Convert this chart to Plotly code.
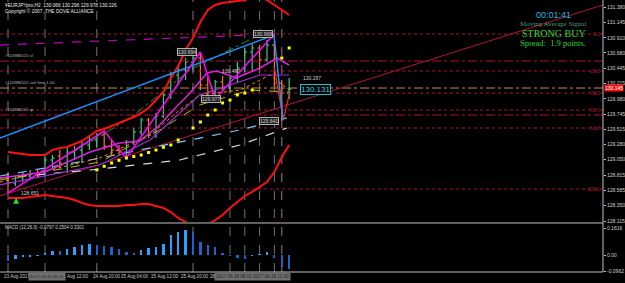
import plotly.graph_objects as go

# ---------------- data ----------------
bar_idx = list(range(39))
opens = [128.771,128.695,128.771,128.802,128.832,128.863,129.046,129.107,129.000,129.168,129.198,129.275,129.351,129.427,129.259,129.198,129.168,129.320,129.473,129.656,129.427,129.717,130.038,130.343,130.419,130.541,130.602,130.190,130.083,130.236,130.160,130.297,130.450,130.694,130.755,130.572,130.800,130.221,130.066]
highs = [128.863,128.802,128.863,128.893,128.893,129.092,129.122,129.198,129.229,129.259,129.351,129.412,129.458,129.488,129.351,129.275,129.351,129.534,129.687,129.687,129.763,130.083,130.389,130.495,130.602,130.648,130.694,130.312,130.266,130.327,130.343,130.541,130.755,130.816,130.800,130.877,130.968,130.266,130.296]
lows = [128.542,128.649,128.710,128.741,128.771,128.817,128.924,128.939,128.848,129.046,129.000,129.198,129.229,129.198,129.122,129.107,129.076,129.275,129.427,129.382,129.382,129.687,129.977,130.190,130.266,130.389,130.114,130.007,129.977,130.114,130.068,130.221,130.389,130.389,130.419,130.541,130.160,129.641,129.978]
closes = [128.695,128.771,128.802,128.832,128.802,129.046,129.076,129.000,129.168,129.198,129.275,129.351,129.427,129.259,129.198,129.168,129.320,129.473,129.656,129.427,129.717,130.038,130.343,130.419,130.541,130.602,130.190,130.083,130.236,130.160,130.297,130.450,130.694,130.755,130.572,130.800,130.221,130.068,130.126]

macd_hist = [-0.034,-0.026,-0.014,-0.010,-0.004,0.014,0.026,0.024,0.034,0.046,0.060,0.064,0.060,0.054,0.046,0.036,0.020,0.014,0.030,0.040,0.050,0.064,0.120,0.140,0.150,0.140,0.080,0.060,0.050,0.014,-0.004,-0.020,-0.026,-0.006,0.004,0.020,-0.016,-0.070,-0.086]

bb_upper = [129.168,129.153,129.137,129.122,129.122,129.122,129.198,129.229,129.244,129.290,129.336,129.412,129.488,129.519,129.565,129.610,129.656,129.702,129.763,129.839,129.961,130.083,130.297,130.480,130.724,130.907,131.151,131.334,131.411,131.441,131.456,131.472,131.487,131.518,131.533,131.487,131.411,131.334,131.258]
bb_lower = [128.466,128.466,128.466,128.481,128.497,128.512,128.497,128.481,128.466,128.436,128.390,128.359,128.344,128.344,128.344,128.344,128.359,128.359,128.375,128.375,128.344,128.314,128.252,128.161,128.100,128.039,128.039,128.069,128.130,128.207,128.314,128.405,128.497,128.558,128.634,128.710,128.863,129.092,129.275]

ma_fast_x = [-1.08,5.0,11.08,15.1,17.8,20.5,22.6,24.6,26.9,28.2,30.9,34.05,36.35,37.97]
ma_fast_y = [128.771,128.863,129.168,129.305,129.336,129.580,129.839,130.068,130.373,130.404,130.297,130.450,130.602,130.495]
ma_purple_x = [-1.08,12.4,19.2,25.9,30.0,34.05,38.0]
ma_purple_y = [128.665,128.970,129.351,130.038,130.190,130.343,130.343]
ma_green_x = [7.0,16.5,24.6,33.1]
ma_green_y = [129.046,129.687,130.419,130.907]
ma_orange_x = [-1.08,12.4,19.2,23.2,25.9,31.4,35.4,38.0]
ma_orange_y = [128.710,129.076,129.427,129.809,130.038,130.114,130.343,130.114]
ma_olive_x = [-1.08,12.4,20.5,25.9,32.7,38.0]
ma_olive_y = [128.741,129.015,129.504,129.885,130.114,130.083]
ma_lblue_x = [-1.08,11.08,31.35,37.7]
ma_lblue_y = [128.802,129.046,129.504,129.687]
ma_white_x = [-1.08,11.08,23.2,31.35,37.7]
ma_white_y = [128.771,128.893,129.046,129.275,129.534]
ma_red_x = [36.0,37.2,38.0]
ma_red_y = [130.450,129.656,130.038]

sar_x = [12,13,14,15,16,17,18,19,20,21,22,23,25,26,27,28,29,30,31,32,33,37,38]
sar_y = [128.893,128.950,129.000,129.040,129.076,129.100,129.122,129.160,129.198,129.240,129.275,129.351,129.534,129.626,129.732,129.809,129.916,129.961,130.038,130.068,130.114,130.602,130.755]

zigzag_x = [0,13,16,26,28,36]
zigzag_y = [128.542,129.488,129.076,130.694,129.977,130.968]

buy_arrow_x = [1.1]
buy_arrow_y = [128.470]

trend_red_x = [-1.08,80.4]
trend_red_y = [128.497,131.411]
trend_blue_x = [-1.08,35.95,37.16]
trend_blue_y = [129.382,130.953,129.656]
channel_x = [-1.08,33.0]
channel_y = [130.800,130.953]

fib_levels = [130.968,130.404,130.068,129.809,129.534,128.603]
fib_names = ["0.0","23.6","38.2","50.0","61.8","100.0"]
order_levels = [130.556,130.144,129.732]
order_names = ["#110986515 sl","#110986515 sell limit 1.00","#110986515 tp"]

price_ticks = [131.380,131.145,130.910,130.680,130.445,130.215,129.980,129.745,129.515,129.280,129.050,128.815,128.585,128.350,128.115]
macd_ticks = [0.1616,0.0,-0.0962]
macd_tick_text = ["0.1616","0.00","-0.0962"]
time_label_x = [-0.81,7.7,11.2,15.0,19.05,23.1,27.0]
time_labels = ["23 Aug 2017","Aug 12:00","24 Aug 20:00","25 Aug 04:00","25 Aug 12:00","25 Aug 20:00","28"]
separators = [0,5,12,25,30,32,34,36,37]
sep_colors = ["#8a6a80","#707070","#8a6a80","#8a6a80","#707070","#707070","#707070","#707070","#a07090"]

# ---------------- figure ----------------
W, H = 625, 283
ML, MR, MT, MB = 0, 22, 0, 11
PW, PH = W - ML - MR, H - MT - MB
def py(p):  # pixel -> paper y
    return 1 - p / PH
def px(p):
    return p / PW

fig = go.Figure()
grey = "#c0c0c0"

for lv in fib_levels:
    fig.add_trace(go.Scatter(x=[-1.08, 80.4], y=[lv, lv], mode="lines",
                             line=dict(color="#b0142c", width=1, dash="dot"),
                             hoverinfo="skip", showlegend=False))
for lv, c in zip(order_levels, ["#b0142c", "#c88a3c", "#b0142c"]):
    fig.add_trace(go.Scatter(x=[-1.08, 80.4], y=[lv, lv], mode="lines",
                             line=dict(color=c, width=1, dash="dashdot"),
                             hoverinfo="skip", showlegend=False))

fig.add_trace(go.Scatter(x=trend_red_x, y=trend_red_y, mode="lines",
                         line=dict(color="#b01830", width=1), showlegend=False))
fig.add_trace(go.Scatter(x=channel_x, y=channel_y, mode="lines",
                         line=dict(color="#c000c0", width=1.2, dash="dash"), showlegend=False))

ma_specs = [
    (ma_white_x, ma_white_y, "#d8d8d8", "dash", 1.2),
    (ma_lblue_x, ma_lblue_y, "#7ec8f0", "dash", 1.2),
    (ma_olive_x, ma_olive_y, "#c8b400", "dash", 1),
    (ma_orange_x, ma_orange_y, "#ff8c00", "dot", 1),
    (ma_green_x, ma_green_y, "#2e8b2e", "dashdot", 1),
    (ma_purple_x, ma_purple_y, "#9a30d0", "solid", 1.2),
    (ma_fast_x, ma_fast_y, "#e020e0", "solid", 1.5),
    (ma_red_x, ma_red_y, "#ff2020", "solid", 1.2),
]
for xs, ys, c, d, w in ma_specs:
    fig.add_trace(go.Scatter(x=xs, y=ys, mode="lines",
                             line=dict(color=c, width=w, dash=d), showlegend=False))

for band in (bb_upper, bb_lower):
    fig.add_trace(go.Scatter(x=bar_idx, y=band, mode="lines",
                             line=dict(color="#ff1010", width=2), showlegend=False))

fig.add_trace(go.Scatter(x=trend_blue_x, y=trend_blue_y, mode="lines",
                         line=dict(color="#1e90ff", width=1.5), showlegend=False))
fig.add_trace(go.Scatter(x=zigzag_x, y=zigzag_y, mode="lines",
                         line=dict(color="#ff00ff", width=1.5), showlegend=False))

fig.add_trace(go.Ohlc(x=bar_idx, open=opens, high=highs, low=lows, close=closes,
                      increasing=dict(line=dict(color="#3cc88c", width=1.2)),
                      decreasing=dict(line=dict(color="#ff7020", width=1.2)),
                      tickwidth=0.3, showlegend=False, xaxis="x", yaxis="y"))

fig.add_trace(go.Scatter(x=sar_x, y=sar_y, mode="markers",
                         marker=dict(color="#ffff00", size=3, symbol="square"), showlegend=False))
fig.add_trace(go.Scatter(x=buy_arrow_x, y=buy_arrow_y, mode="markers",
                         marker=dict(color="#20e020", size=6, symbol="arrow-up"), showlegend=False))

macd_colors = ["#28a0ff" if (i > 0 and v > macd_hist[i-1]) else "#1a66c8" for i, v in enumerate(macd_hist)]
fig.add_trace(go.Bar(x=bar_idx, y=macd_hist, width=0.3, marker=dict(color=macd_colors, line=dict(width=0)),
                     xaxis="x", yaxis="y2", showlegend=False))

annotations = []
hdr = dict(family="Liberation Sans", size=4.8, color="#e8e8e8")
annotations.append(dict(x=px(3), y=py(5), xref="paper", yref="paper", xanchor="left", yanchor="middle",
                        text="\u00a5EURJPYpro,H2  130.066 130.296 129.978 130.126", showarrow=False, font=hdr))
annotations.append(dict(x=px(3), y=py(11.5), xref="paper", yref="paper", xanchor="left", yanchor="middle",
                        text="Copyright \u00a9 2007, THE DOVE ALLIANCE", showarrow=False, font=hdr))
annotations.append(dict(x=px(3), y=py(227.5), xref="paper", yref="paper", xanchor="left", yanchor="middle",
                        text="MACD (12,26,9) -0.0797 0.2504 0.3301", showarrow=False,
                        font=dict(family="Liberation Sans", size=4.5, color="#d0d0d0")))
sig = [
    dict(x=px(553), y=py(15), text="00:01:41", font=dict(family="Liberation Sans", size=9, color="#18b8e0")),
    dict(x=px(553), y=py(23.5), text="Moving Average Signal", font=dict(family="Liberation Serif", size=7, color="#4f9a78")),
    dict(x=px(554), y=py(33), text="STRONG BUY", font=dict(family="Liberation Serif", size=10, color="#2ed82e")),
    dict(x=px(553), y=py(43), text="Spread:  1.9 points.", font=dict(family="Liberation Serif", size=8.5, color="#2ed82e")),
]
for a in sig:
    a.update(xref="paper", yref="paper", xanchor="center", yanchor="middle", showarrow=False)
annotations += sig

for lv, nm in zip(order_levels, order_names):
    annotations.append(dict(x=-0.7, y=lv, xref="x", yref="y", xanchor="left", yanchor="bottom",
                            text=nm, showarrow=False, font=dict(family="Liberation Sans", size=4.3, color="#b8b8b8"),
                            yshift=1))
for lv, nm in zip(fib_levels, fib_names):
    annotations.append(dict(x=px(602), y=lv, xref="paper", yref="y", xanchor="right", yanchor="middle",
                            text=nm, showarrow=False, font=dict(family="Liberation Sans", size=5, color="#a01c30")))
zz_pos = [(3.0, 128.542, "128.651", None), (24.2, 130.694, "130.694", "box"), (27.5, 129.977, "129.977", "box"),
          (30.2, 130.404, "130.49?", None), (34.4, 130.968, "130.968", "box"), (35.3, 129.641, "129.641", "box")]
for xv, yv, t, st in zz_pos:
    d = dict(x=xv, y=yv, xref="x", yref="y", xanchor="center", yanchor="middle", text=t, showarrow=False,
             font=dict(family="Liberation Sans", size=5, color="#d0d0d0"))
    if st == "box":
        d.update(bgcolor="#202020", bordercolor="#b0b0b0", borderwidth=1, borderpad=0)
    annotations.append(d)
annotations.append(dict(x=39.6, y=130.296, xref="x", yref="y", xanchor="left", yanchor="middle", text="130.297",
                        showarrow=False, font=dict(family="Liberation Sans", size=5, color="#c8c8c8")))
annotations.append(dict(x=39.5, y=130.126, xref="x", yref="y", xanchor="left", yanchor="middle", text="130.131",
                        showarrow=False, bgcolor="#000000", bordercolor="#20c0d0", borderwidth=1, borderpad=0,
                        font=dict(family="Liberation Sans", size=8, color="#40d0e0")))
annotations.append(dict(x=px(604), y=130.145, xref="paper", yref="y", xanchor="left", yanchor="middle",
                        text="130.145", showarrow=False, bgcolor="#ff1010",
                        font=dict(family="Liberation Sans", size=5, color="#ffffff"), borderpad=0))
for xv, t in zip(time_label_x, time_labels):
    annotations.append(dict(x=xv, y=py(276.5), xref="x", yref="paper", xanchor="left", yanchor="middle",
                            text=t, showarrow=False, font=dict(family="Liberation Sans", size=4.6, color="#c8c8c8")))
annotations.append(dict(x=px(46.5), y=py(276.5), xref="paper", yref="paper", xanchor="center", yanchor="middle",
                        text="2017.08.24 06:00", showarrow=False, bgcolor="#707070",
                        font=dict(family="Liberation Sans", size=4.3, color="#202020")))
annotations.append(dict(x=px(252.5), y=py(276.5), xref="paper", yref="paper", xanchor="center", yanchor="middle",
                        text="2017.08.28 08:00 2017.08.28 12:00", showarrow=False, bgcolor="#707070",
                        font=dict(family="Liberation Sans", size=4.6, color="#202020")))

shapes = []
for sx, sc in zip(separators, sep_colors):
    shapes.append(dict(type="line", xref="x", yref="paper", x0=sx, x1=sx, y0=0, y1=1,
                       line=dict(color=sc, width=1, dash="dash"), layer="below"))
shapes.append(dict(type="line", xref="paper", yref="paper", x0=0, x1=1, y0=py(223), y1=py(223),
                   line=dict(color=grey, width=1)))
shapes.append(dict(type="line", xref="paper", yref="paper", x0=0, x1=1, y0=0, y1=0, line=dict(color=grey, width=1)))
shapes.append(dict(type="line", xref="paper", yref="paper", x0=1, x1=1, y0=0, y1=1, line=dict(color=grey, width=1)))

fig.update_layout(
    width=W, height=H, margin=dict(l=ML, r=MR, t=MT, b=MB),
    paper_bgcolor="#000000", plot_bgcolor="#000000",
    showlegend=False, bargap=0,
    xaxis=dict(range=[-1.081, 80.41], showgrid=False, zeroline=False, showticklabels=False,
               rangeslider=dict(visible=False), anchor="y2", fixedrange=True),
    yaxis=dict(domain=[py(222), 1], range=[128.100, 131.487], side="right", showgrid=False, zeroline=False,
               tickvals=price_ticks, ticktext=[f"{v:.3f}" for v in price_ticks], ticks="outside", ticklen=2,
               tickcolor=grey, tickfont=dict(family="Liberation Sans", size=5, color="#d0d0d0")),
    yaxis2=dict(domain=[0, py(224)], range=[-0.102, 0.186], side="right", showgrid=False, zeroline=False,
                tickvals=macd_ticks, ticktext=macd_tick_text, ticks="outside", ticklen=2, tickcolor=grey,
                tickfont=dict(family="Liberation Sans", size=5, color="#d0d0d0"), anchor="x"),
    annotations=annotations, shapes=shapes,
)

fig.write_html("out.html")
